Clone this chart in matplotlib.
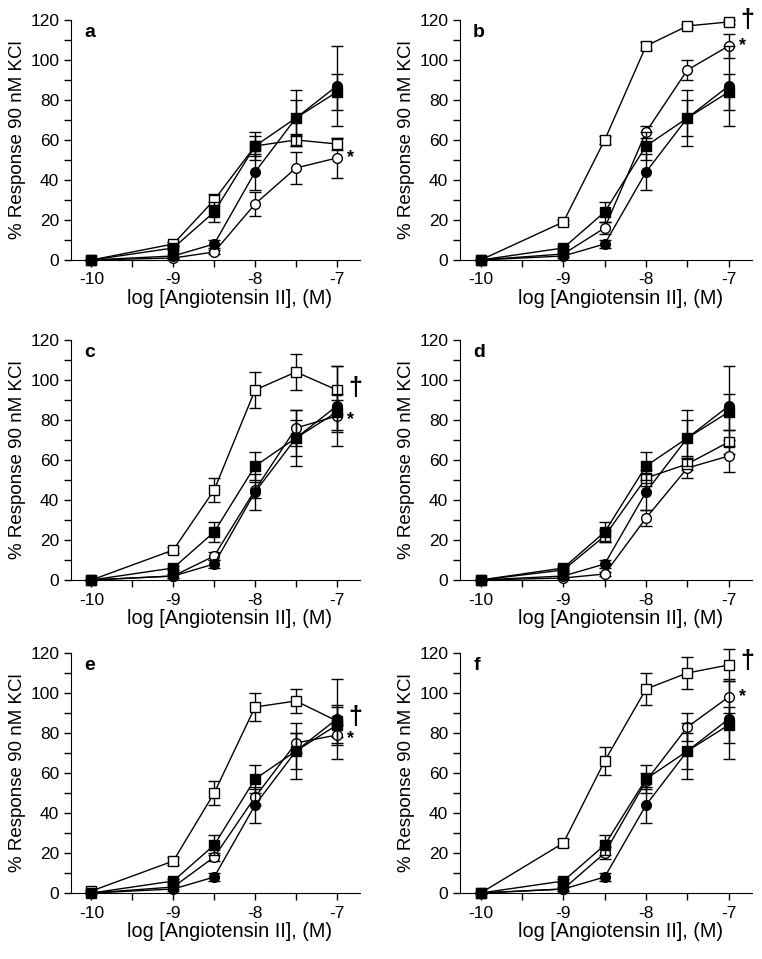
import numpy as np
import matplotlib
matplotlib.use("Agg")
import matplotlib.pyplot as plt
from matplotlib.ticker import MultipleLocator

plt.rcParams['font.family'] = ['Liberation Sans', 'DejaVu Sans']

# log [Ang II] doses
doses = [-10, -9, -8.5, -8, -7.5, -7]

# control curves (same in every panel)
ctrl_circle = [0, 2, 8, 44, 71, 87]
ctrl_circle_err = [0, 1, 2, 9, 9, 20]
ctrl_square = [0, 6, 24, 57, 71, 84]
ctrl_square_err = [0, 1, 5, 7, 14, 9]

panels = ['a', 'b', 'c', 'd', 'e', 'f']

open_square = {
    'a': [0, 8, 30, 57, 60, 58],
    'b': [0, 19, 60, 107, 117, 119],
    'c': [0, 15, 45, 95, 104, 95],
    'd': [0, 5, 22, 51, 58, 69],
    'e': [1, 16, 50, 93, 96, 86],
    'f': [0, 25, 66, 102, 110, 114],
}
open_square_err = {
    'a': [0, 1, 3, 5, 3, 3],
    'b': [0, 1, 2, 2, 1, 1],
    'c': [0, 1.5, 6, 9, 9, 12],
    'd': [0, 1, 3, 4, 3, 6],
    'e': [0.5, 2, 6, 7, 6, 8],
    'f': [0, 2, 7, 8, 8, 8],
}
open_circle = {
    'a': [0, 1, 4, 28, 46, 51],
    'b': [0, 3, 16, 64, 95, 107],
    'c': [0, 2, 12, 45, 76, 82],
    'd': [0, 1, 3, 31, 56, 62],
    'e': [0, 3, 18, 48, 75, 79],
    'f': [0, 2, 20, 56, 83, 98],
}
open_circle_err = {
    'a': [0, 0.5, 1, 6, 8, 10],
    'b': [0, 1, 3, 3, 5, 6],
    'c': [0, 1, 2, 4, 9, 8],
    'd': [0, 0.5, 1, 4, 5, 8],
    'e': [0, 1, 2, 4, 5, 5],
    'f': [0, 1, 3, 4, 7, 8],
}

# significance marks next to the last dose: (symbol, y level)
sig_marks = {
    'a': [('*', 51)],
    'b': [('\u2020', 120), ('*', 107)],
    'c': [('\u2020', 96), ('*', 80)],
    'd': [],
    'e': [('\u2020', 88), ('*', 77)],
    'f': [('\u2020', 116), ('*', 98)],
}

fig = plt.figure(figsize=(7.62, 9.59), dpi=100)

lefts = [0.0932, 0.6037]
bottoms = [0.7289, 0.3952, 0.0688]
widths = [0.379, 0.383]
height = 0.2503

err_kw = dict(color='black', lw=1.0, capsize=4, capthick=1.0, elinewidth=1.0,
              markersize=7, markeredgewidth=1.0, markeredgecolor='black', clip_on=False)

for i, p in enumerate(panels):
    row, col = divmod(i, 2)
    ax = fig.add_axes([lefts[col], bottoms[row], widths[col], height])

    ax.errorbar(doses, open_circle[p], yerr=open_circle_err[p], marker='o',
                markerfacecolor='white', zorder=3, **err_kw)
    ax.errorbar(doses, open_square[p], yerr=open_square_err[p], marker='s',
                markerfacecolor='white', zorder=3, **err_kw)
    ax.errorbar(doses, ctrl_circle, yerr=ctrl_circle_err, marker='o',
                markerfacecolor='black', zorder=4, **err_kw)
    ax.errorbar(doses, ctrl_square, yerr=ctrl_square_err, marker='s',
                markerfacecolor='black', zorder=5, **err_kw)

    for sym, yv in sig_marks[p]:
        if sym == '*':
            ax.text(-6.83, yv, sym, fontsize=13, fontweight='bold', ha='center',
                    va='center', clip_on=False)
        else:
            ax.text(-6.78, yv, sym, fontsize=18, fontweight='bold', ha='center',
                    va='center', clip_on=False)

    ax.set_xlim(-10.25, -6.72)
    ax.set_ylim(0, 120)
    ax.xaxis.set_major_locator(MultipleLocator(1))
    ax.xaxis.set_minor_locator(MultipleLocator(0.5))
    ax.yaxis.set_major_locator(MultipleLocator(20))
    ax.yaxis.set_minor_locator(MultipleLocator(10))
    ax.tick_params(which='both', direction='out', length=5, width=1, labelsize=12.5)
    ax.tick_params(axis='x', pad=4)
    ax.spines['top'].set_visible(False)
    ax.spines['right'].set_visible(False)
    ax.set_xticklabels([f'{int(v)}' for v in ax.get_xticks()])

    ax.set_xlabel('log [Angiotensin II], (M)', fontsize=14.3, labelpad=4)
    ax.xaxis.set_label_coords(0.55, -0.12)
    ax.set_ylabel('% Response 90 nM KCl', fontsize=13.5, labelpad=3)
    ax.text(0.045, 0.985, p, transform=ax.transAxes, fontsize=14, fontweight='bold',
            ha='left', va='top')

fig.savefig('out.png', dpi=100)
